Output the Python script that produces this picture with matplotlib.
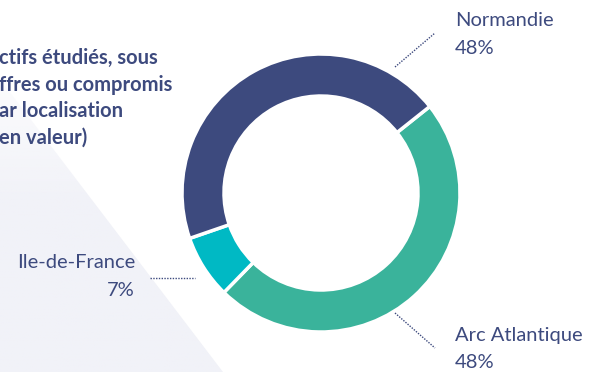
import numpy as np
import matplotlib
matplotlib.use("Agg")
import matplotlib.pyplot as plt
from matplotlib.patches import Polygon

# data
regions = ["Arc Atlantique", "Ile-de-France", "Normandie"]
shares = [48.0, 7.4, 44.6]          # angular share of each ring segment
pct_labels = ["48%", "7%", "48%"]
colors = ["#3AB39B", "#00B9C4", "#3D4A7E"]

title_lines = ["ctifs étudiés, sous", "ffres ou compromis", "ar localisation", "en valeur)"]

navy = "#3D4A7E"
plt.rcParams['font.family'] = ['Lato', 'DejaVu Sans']

W, H = 601, 372
fig = plt.figure(figsize=(W / 100, H / 100), dpi=100)
ax = fig.add_axes([0, 0, 1, 1])

# faint background triangle on the left, fading towards the top
tri = Polygon([(0, 293), (223, 0), (0, 0)], closed=True, facecolor="none", edgecolor="none")
ax.add_patch(tri)
n = 200
ys = np.linspace(0, 293, n)
alpha = np.where(ys < 170, 1.0, 1.0 - 0.8 * (ys - 170) / (293 - 170))
grad = np.ones((n, 2, 4))
grad[..., 0] = 0xF1 / 255
grad[..., 1] = 0xF2 / 255
grad[..., 2] = 0xF8 / 255
grad[..., 3] = alpha[:, None]
im = ax.imshow(grad, extent=(0, 223, 0, 293), origin="lower", aspect="auto", zorder=0)
im.set_clip_path(tri)

# donut
ax.pie(shares, colors=colors, startangle=38.5, counterclock=False,
       radius=139, center=(321, 179),
       wedgeprops=dict(width=42, edgecolor="white", linewidth=2.5))

# leader lines
ax.plot([395, 435], [305, 339], ls=(0, (1, 1)), color=navy, lw=1)
ax.plot([395, 435], [59, 24], ls=(0, (1, 1)), color=navy, lw=1)
ax.plot([150, 195], [94, 94], ls=(0, (1, 1)), color=navy, lw=1)

# labels
fs = 14.5
ax.text(455, 351, regions[2], color=navy, fontsize=fs, va="center", ha="left")
ax.text(455, 324, pct_labels[2], color=navy, fontsize=fs, va="center", ha="left")
ax.text(455, 36, regions[0], color=navy, fontsize=fs, va="center", ha="left")
ax.text(455, 9, pct_labels[0], color=navy, fontsize=fs, va="center", ha="left")
ax.text(135, 109, regions[1], color=navy, fontsize=fs, va="center", ha="right")
ax.text(135, 82, pct_labels[1], color=navy, fontsize=fs, va="center", ha="right")

# clipped title block
for i, line in enumerate(title_lines):
    ax.text(-1, 314 - i * 26.7, line, color=navy, fontsize=14.5, fontweight="bold",
            va="center", ha="left")

ax.set_xlim(0, W)
ax.set_ylim(0, H)
ax.set_aspect("equal")
ax.axis("off")

fig.savefig("out.png", dpi=100)
